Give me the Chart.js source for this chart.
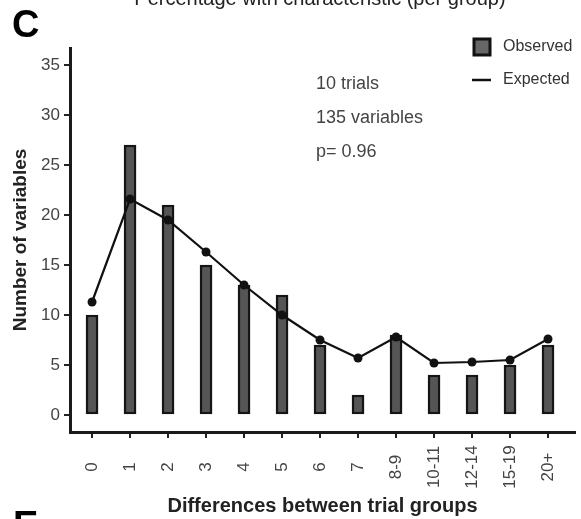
<!DOCTYPE html>
<html>
<head>
<meta charset="utf-8">
<script src="https://cdn.jsdelivr.net/npm/chart.js@4.4.1/dist/chart.umd.min.js"></script>
<style>
  body { margin: 0; background: #fff; }
  canvas { display: block; }
</style>
</head>
<body>
<canvas id="chart1" width="581" height="519"></canvas>
<script>
const labels = ["0", "1", "2", "3", "4", "5", "6", "7", "8-9", "10-11", "12-14", "15-19", "20+"];
const observed = [10, 27, 21, 15, 13, 12, 7, 2, 8, 4, 4, 5, 7];
const expected = [11.3, 21.6, 19.5, 16.3, 13.0, 10.0, 7.5, 5.7, 7.8, 5.2, 5.3, 5.5, 7.6];
const yTicks = [0, 5, 10, 15, 20, 25, 30, 35];
const notes = ["10 trials", "135 variables", "p= 0.96"];
const legendNames = ["Observed", "Expected"];

const font = '"Liberation Sans", Arial, sans-serif';

// extra text: panel letters, notes, legend, rotated x labels
const extras = {
  id: "extras",
  afterDraw: function (chart) {
    const ctx = chart.ctx;
    const xs = chart.scales.x;
    ctx.save();

    ctx.fillStyle = "#222";
    ctx.font = "20px " + font;
    ctx.textAlign = "center";
    ctx.textBaseline = "alphabetic";
    ctx.fillText("Percentage with characteristic (per group)", 320, 5);

    ctx.fillStyle = "#000";
    ctx.font = "bold 38px " + font;
    ctx.textAlign = "left";
    ctx.fillText("C", 12, 37);
    ctx.fillText("E", 13, 538);

    ctx.fillStyle = "#444";
    ctx.font = "18px " + font;
    ctx.textBaseline = "middle";
    let y = 84;
    notes.forEach((n) => {
      ctx.fillText(n, 316, y);
      y += 34;
    });

    // legend
    ctx.fillStyle = "#666";
    ctx.fillRect(474, 39, 16, 16);
    ctx.strokeStyle = "#111";
    ctx.lineWidth = 3;
    ctx.strokeRect(474, 39, 16, 16);
    ctx.beginPath();
    ctx.moveTo(472, 80);
    ctx.lineTo(491, 80);
    ctx.lineWidth = 2.5;
    ctx.stroke();
    ctx.fillStyle = "#333";
    ctx.font = "16px " + font;
    ctx.fillText(legendNames[0], 503, 47);
    ctx.fillText(legendNames[1], 503, 80);

    // x labels, rotated and centred
    ctx.fillStyle = "#444";
    ctx.font = "17px " + font;
    ctx.textAlign = "center";
    labels.forEach((l, i) => {
      const px = xs.getPixelForValue(i);
      ctx.save();
      ctx.translate(px, 467);
      ctx.rotate(-Math.PI / 2);
      ctx.fillText(l, 0, 0);
      ctx.restore();
    });

    ctx.restore();
  },
};

const chart = new Chart(document.getElementById("chart1"), {
  type: "bar",
  data: {
    datasets: [
      {
        type: "line",
        label: legendNames[1],
        data: expected.map((v, i) => ({ x: i, y: v })),
        borderColor: "#111",
        backgroundColor: "#111",
        borderWidth: 2.2,
        pointRadius: 4.5,
        pointBackgroundColor: "#111",
        pointBorderWidth: 0,
        tension: 0,
        order: 0,
      },
      {
        type: "bar",
        label: legendNames[0],
        data: observed.map((v, i) => ({ x: i, y: v })),
        backgroundColor: "#555",
        borderColor: "#151515",
        borderWidth: 2.5,
        borderSkipped: false,
        barThickness: 12,
        order: 1,
      },
    ],
  },
  options: {
    responsive: false,
    animation: false,
    layout: { padding: { top: 48, right: 6, left: 0, bottom: 0 } },
    plugins: {
      legend: { display: false },
      tooltip: { enabled: false },
    },
    scales: {
      x: {
        type: "linear",
        offset: false,
        min: -0.58,
        max: 12.71,
        afterBuildTicks: (scale) => {
          scale.ticks = labels.map((l, i) => ({ value: i }));
        },
        afterFit: (scale) => {
          scale.height = 87;
        },
        ticks: { display: false },
        grid: { offset: false, drawOnChartArea: false, tickLength: 6, lineWidth: 2, color: "#222" },
        border: { display: true, width: 3, color: "#1a1a1a" },
        title: {
          display: true,
          text: "Differences between trial groups",
          color: "#222",
          font: { family: font, size: 20, weight: "bold" },
          padding: { top: 0, bottom: 1 },
        },
      },
      y: {
        min: -1.7,
        max: 36.7,
        afterBuildTicks: (scale) => {
          scale.ticks = yTicks.map((v) => ({ value: v }));
        },
        afterFit: (scale) => {
          scale.width = 70;
        },
        ticks: { color: "#444", font: { family: font, size: 17 }, padding: 4, autoSkip: false },
        grid: { drawOnChartArea: false, tickLength: 6, lineWidth: 2, color: "#222" },
        border: { display: true, width: 3, color: "#1a1a1a" },
        title: {
          display: true,
          text: "Number of variables",
          color: "#222",
          font: { family: font, size: 19, weight: "bold" },
          padding: { top: 9, bottom: 0 },
        },
      },
    },
  },
  plugins: [extras],
});
</script>
</body>
</html>
